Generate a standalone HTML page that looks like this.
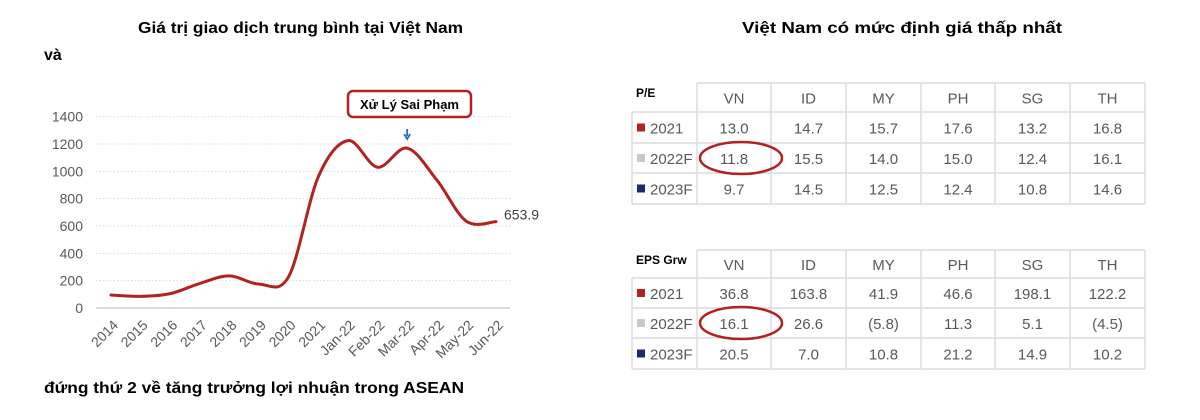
<!DOCTYPE html>
<html><head><meta charset="utf-8">
<style>
body{margin:0;background:#fff;}
svg text{font-family:"Liberation Sans",sans-serif;}
</style></head>
<body>
<svg width="1200" height="415" viewBox="0 0 1200 415" xmlns="http://www.w3.org/2000/svg">
<text x="138" y="33" font-size="16" font-weight="bold" textLength="325" lengthAdjust="spacingAndGlyphs">Giá trị giao dịch trung bình tại Việt Nam</text>
<text x="44" y="60" font-size="16" font-weight="bold">và</text>
<text x="44" y="393" font-size="16" font-weight="bold" textLength="420" lengthAdjust="spacingAndGlyphs">đứng thứ 2 về tăng trưởng lợi nhuận trong ASEAN</text>
<text x="902" y="33" font-size="16" font-weight="bold" text-anchor="middle" textLength="320" lengthAdjust="spacingAndGlyphs">Việt Nam có mức định giá thấp nhất</text>
<g id="chart"></g>
<g id="tables"></g>
</svg>
<script>
const categories=["2014","2015","2016","2017","2018","2019","2020","2021","Jan-22","Feb-22","Mar-22","Apr-22","May-22","Jun-22"];
const values=[95,85,105,180,235,175,230,960,1225,1030,1170,937,635,632];
const lastLabel=["653.9"];
const yTicks=[0,200,400,600,800,1000,1200,1400];
const NS="http://www.w3.org/2000/svg";
function mk(tag,attrs,parent,text){const e=document.createElementNS(NS,tag);for(const k in attrs)e.setAttribute(k,attrs[k]);if(text!==undefined)e.textContent=text;parent.appendChild(e);return e;}
const g=document.getElementById('chart');
const x0=111,x1=496,yb=308,yt=116.7;
const xs=i=>x0+i*(x1-x0)/(categories.length-1);
const ys=v=>yb-(v/1400)*(yb-yt);
yTicks.forEach(t=>{
 const l=mk('line',{x1:96,x2:510,y1:ys(t),y2:ys(t),stroke:t===0?'#d0d0d0':'#d9d9d9','stroke-width':t===0?1.5:1,'stroke-dasharray':t===0?'':'1.5,2'},g);
 
 
 const tx=mk('text',{x:83,y:ys(t)+5,'font-size':14,'text-anchor':'end',fill:'#595959'},g,String(t));
 
 
});
categories.forEach((c,i)=>{
 const x=xs(i);
 const tx=mk('text',{x:x+8,y:326,'font-size':14,'text-anchor':'end',fill:'#595959',transform:`rotate(-45 ${x+8} 326)`},g,c);
 
 
});
const pts=values.map((v,i)=>[xs(i),ys(v)]);
let d=`M${pts[0][0]},${pts[0][1]}`;
for(let i=0;i<pts.length-1;i++){
 const p0=pts[Math.max(0,i-1)],p1=pts[i],p2=pts[i+1],p3=pts[Math.min(pts.length-1,i+2)];
 const c1=[p1[0]+(p2[0]-p0[0])/6,p1[1]+(p2[1]-p0[1])/6];
 const c2=[p2[0]-(p3[0]-p1[0])/6,p2[1]-(p3[1]-p1[1])/6];
 d+=` C${c1[0]},${c1[1]} ${c2[0]},${c2[1]} ${p2[0]},${p2[1]}`;
}
const line=mk('path',{d:d,fill:'none',stroke:'#b22222','stroke-width':3,'stroke-linecap':'round'},g);


const last=pts[pts.length-1];
const lbl=mk('text',{x:last[0]+8,y:last[1]-2,'font-size':14,fill:'#404040'},g,lastLabel[0]);


const box=mk('rect',{x:348,y:91,width:123,height:26,rx:5,fill:'#fff',stroke:'#b22222','stroke-width':2.5},g);


const at=mk('text',{x:409.5,y:109,'font-size':13,'font-weight':'bold','text-anchor':'middle'},g,'Xử Lý Sai Phạm');


const ax=xs(10);
const ar=mk('path',{d:`M${ax},129 L${ax},136 M${ax-3},134 L${ax},139 L${ax+3},134`,stroke:'#2e6bb5','stroke-width':1.8,fill:'none'},g);



// tables
const cols=["VN","ID","MY","PH","SG","TH"];
const rowLabels=["2021","2022F","2023F"];
const rowColors=["#b22222","#c8c8c8","#1a2a6c"];
const peVals=[["13.0","14.7","15.7","17.6","13.2","16.8"],["11.8","15.5","14.0","15.0","12.4","16.1"],["9.7","14.5","12.5","12.4","10.8","14.6"]];
const epsVals=[["36.8","163.8","41.9","46.6","198.1","122.2"],["16.1","26.6","(5.8)","11.3","5.1","(4.5)"],["20.5","7.0","10.8","21.2","14.9","10.2"]];
const tg=document.getElementById('tables');
const colX=[632,697,771,846,921,995,1070,1145];
function table(name,title,vals,rowsY){
 const t=mk('g',{},tg);
 
 
 const s='#dcdcdc';
 mk('line',{x1:colX[1],x2:colX[7],y1:rowsY[0],y2:rowsY[0],stroke:s,'stroke-width':1.5},t);
 for(let r=1;r<rowsY.length;r++) mk('line',{x1:colX[0],x2:colX[7],y1:rowsY[r],y2:rowsY[r],stroke:s,'stroke-width':1.5},t);
 mk('line',{x1:colX[0],x2:colX[0],y1:rowsY[1],y2:rowsY[4],stroke:s,'stroke-width':1.5},t);
 for(let c=1;c<colX.length;c++) mk('line',{x1:colX[c],x2:colX[c],y1:rowsY[0],y2:rowsY[4],stroke:s,'stroke-width':1.5},t);
 const tt=mk('text',{x:colX[0]+4,y:rowsY[0]+14,'font-size':12,'font-weight':'bold'},t,title);
 
 
 cols.forEach((c,i)=>{
  const e=mk('text',{x:(colX[i+1]+colX[i+2])/2,y:(rowsY[0]+rowsY[1])/2+6,'font-size':15,'text-anchor':'middle',fill:'#595959'},t,c);
  
  
 });
 rowLabels.forEach((rl,r)=>{
  const cy=(rowsY[r+1]+rowsY[r+2])/2;
  mk('rect',{x:637,y:cy-4,width:8,height:8,fill:rowColors[r]},t);
  const e=mk('text',{x:650,y:cy+6,'font-size':15,fill:'#595959'},t,rl);
  
  
  vals[r].forEach((v,i)=>{
   const c=mk('text',{x:(colX[i+1]+colX[i+2])/2,y:cy+6,'font-size':15,'text-anchor':'middle',fill:'#595959'},t,v);
   
   
  });
 });
 const cy=(rowsY[2]+rowsY[3])/2;
 const el=mk('ellipse',{cx:741,cy:cy,rx:41,ry:16,fill:'none',stroke:'#b22222','stroke-width':2.5},t);
 
 
}
table('pe-table','P/E',peVals,[83,112,143,173,204]);
table('eps-table','EPS Grw',epsVals,[250,278,308,338,369]);
</script>
</body></html>
